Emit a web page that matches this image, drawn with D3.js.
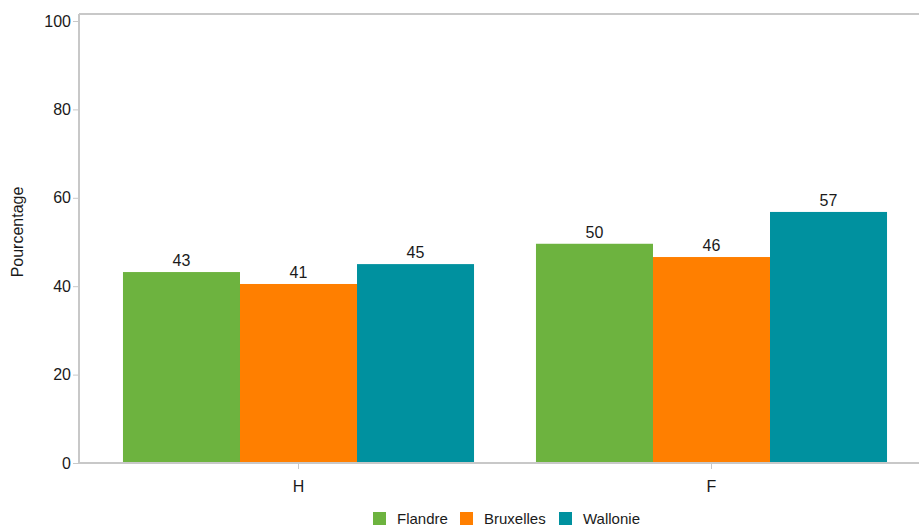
<!DOCTYPE html>
<html><head><meta charset="utf-8">
<script src="https://cdn.jsdelivr.net/npm/d3@7"></script>
<style>body{margin:0;background:#fff;}svg{display:block;font-family:"Liberation Sans",Arial,sans-serif;}</style>
</head><body>
<svg id="chart" width="919" height="529"></svg>
<script>
const categories = ["H", "F"];
const seriesNames = ["Flandre", "Bruxelles", "Wallonie"];
const flandre = [43.2, 49.6];
const bruxelles = [40.5, 46.6];
const wallonie = [45.0, 56.8];
const labelsFlandre = ["43", "50"];
const labelsBruxelles = ["41", "46"];
const labelsWallonie = ["45", "57"];
const yTicks = [0, 20, 40, 60, 80, 100];
const colors = ["#6db33f", "#ff7f00", "#00919f"];

(function () {
const values = [flandre, bruxelles, wallonie];
const labels = [labelsFlandre, labelsBruxelles, labelsWallonie];

const svg = d3.select("#chart");
const mLeft = 79, mRight = 918, mTop = 14, mBottom = 463;
const axisGray = "#c8c8c8";
const txt = "#1a1a1a";

const y = d3.scaleLinear().domain([0, 100]).range([mBottom, 21]);
const x0 = d3.scaleBand().domain(categories).range([92, 918]).paddingInner(0.15).paddingOuter(0.075);
const x1 = d3.scaleBand().domain(seriesNames).range([0, x0.bandwidth()]);

svg.append("line").attr("x1", mLeft).attr("x2", mRight + 1).attr("y1", mTop).attr("y2", mTop)
  .attr("stroke", axisGray).attr("stroke-width", 2);

categories.forEach((c, ci) => {
  seriesNames.forEach((s, si) => {
    const v = values[si][ci];
    const bx = x0(c) + x1(s);
    svg.append("rect")
      .attr("x", bx).attr("y", y(v))
      .attr("width", x1.bandwidth()).attr("height", y(0) - y(v))
      .attr("fill", colors[si]);
    svg.append("text")
      .attr("x", bx + x1.bandwidth() / 2).attr("y", y(v) - 6)
      .attr("text-anchor", "middle").attr("font-size", 16).attr("fill", txt)
      .text(labels[si][ci]);
  });
});

const yAxis = d3.axisLeft(y).tickValues(yTicks).tickSize(6).tickPadding(2);
const gy = svg.append("g").attr("transform", `translate(${mLeft},0)`).call(yAxis);
gy.select(".domain").attr("d", `M0,${mTop}V${mBottom}`).attr("stroke", axisGray).attr("stroke-width", 2);
gy.selectAll(".tick line").attr("stroke", axisGray);
gy.selectAll(".tick text").attr("font-size", 16).attr("fill", txt).attr("font-family", "Liberation Sans, Arial, sans-serif");

const xAxis = d3.axisBottom(x0).tickSize(6).tickPadding(12);
const gx = svg.append("g").attr("transform", `translate(0,${mBottom})`).call(xAxis);
gx.select(".domain").attr("d", `M${mLeft},0H${mRight + 1}`).attr("stroke", axisGray).attr("stroke-width", 2);
gx.selectAll(".tick line").attr("stroke", axisGray);
gx.selectAll(".tick text").attr("font-size", 16).attr("fill", txt).attr("font-family", "Liberation Sans, Arial, sans-serif");

svg.append("text").attr("transform", "translate(23,232) rotate(-90)")
  .attr("text-anchor", "middle").attr("font-size", 16).attr("fill", txt).text("Pourcentage");

const legendX = [373, 460, 559];
seriesNames.forEach((s, i) => {
  svg.append("rect").attr("x", legendX[i]).attr("y", 512).attr("width", 13).attr("height", 13).attr("fill", colors[i]);
  svg.append("text").attr("x", legendX[i] + 24).attr("y", 524).attr("font-size", 15).attr("fill", txt).text(s);
});
})();
</script>
</body></html>
